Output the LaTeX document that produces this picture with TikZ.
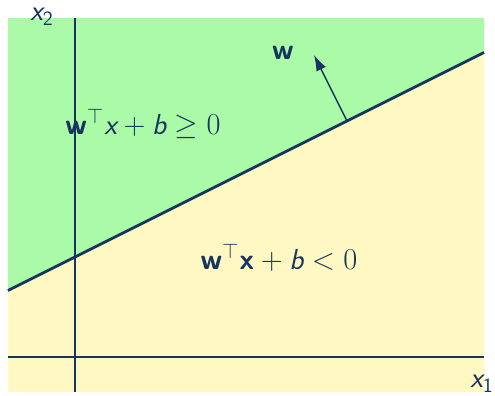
\documentclass[tikz,border=0pt]{standalone}
\usepackage{amsmath,amssymb}
\usepackage{fontspec}
\usepackage{tikz}
\usetikzlibrary{arrows.meta,positioning}

\definecolor{halfgreen}{RGB}{170,250,168}
\definecolor{halfyellow}{RGB}{255,248,194}
\definecolor{navy}{RGB}{22,52,96}

\newcommand{\bw}{\textsf{\bfseries w}}
\newcommand{\bx}{\textsf{\bfseries x}}
\newcommand{\ix}{\textsf{\itshape x}}
\newcommand{\ib}{\textsf{\itshape b}}

\begin{document}
\begin{tikzpicture}[font=\fontsize{16.5}{20}\selectfont, color=navy,
  axis/.style={line width=0.6pt},
  boundary/.style={line width=1.6pt},
  normal/.style={line width=0.8pt,-{Latex[length=9pt,width=6pt]}}]
\path[use as bounding box] (-1.5,-0.76) rectangle (8.4,7.14);
% half-spaces
\fill[halfgreen] (-1.34,1.33) -- (8.18,6.09) -- (8.18,6.78) -- (-1.34,6.78) -- cycle;
\fill[halfyellow] (-1.34,1.33) -- (8.18,6.09) -- (8.18,-0.7) -- (-1.34,-0.7) -- cycle;
% axes
\draw[axis] (-1.34,0) -- (8.18,0);
\draw[axis] (0,-0.7) -- (0,6.78);
\node (xone) at (8.14,-0.54) {$\ix_{\mathsf{1}}$};
\node (xtwo) at (-0.66,6.80) {$\ix_{\mathsf{2}}$};
% decision boundary and its normal
\draw[boundary] (-1.34,1.33) -- (8.18,6.09);
\coordinate (foot) at (5.44,4.72);
\coordinate (tip) at (4.78,6.04);
\draw[normal] (foot) -- (tip);
\node (wlab) at (4.16,6.08) {\bw};
\node (pos) at (1.36,4.66) {$\bw^{\top}\ix+\ib\geq 0$};
\node (neg) at (4.08,1.98) {$\bw^{\top}\bx+\ib<0$};
\end{tikzpicture}
\end{document}
